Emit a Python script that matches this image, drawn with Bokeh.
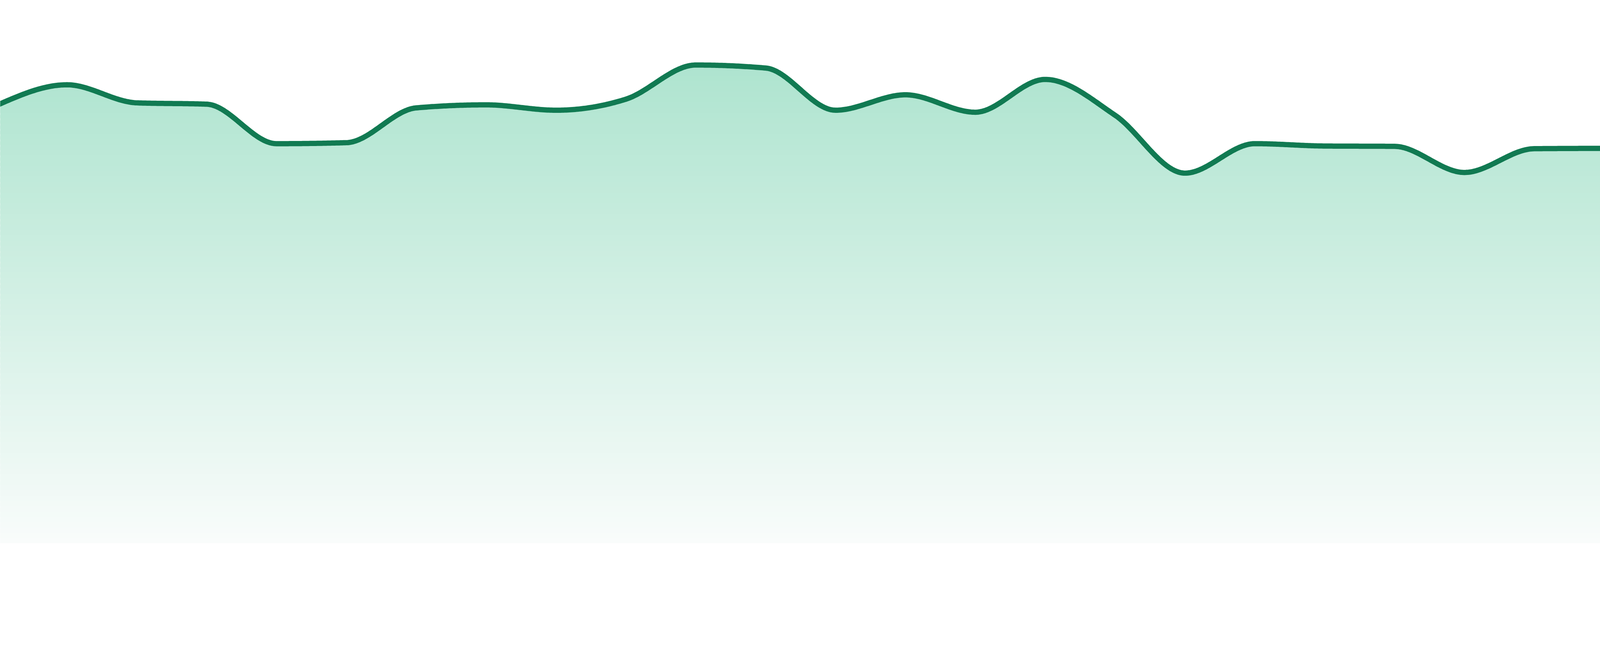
import numpy as np
from bokeh.plotting import figure
from bokeh.models import Range1d
from bokeh.embed import file_html
from bokeh.resources import INLINE

# ---- data ----
periods = list(range(24))
prices = [130.9, 137.0, 131.6, 131.2, 119.4, 119.7, 130.1, 131.0,
          129.4, 132.7, 142.9, 142.0, 129.4, 134.0, 128.8, 138.6,
          127.9, 110.6, 119.4, 118.7, 118.6, 110.8, 117.9, 118.0]

LINE_COLOR = "#117a52"
TOP_RGB = (174, 228, 207)
BOTTOM_RGB = (249, 252, 251)


def monotone_x(xs, ys, steps=48):
    """Monotone cubic (d3 curveMonotoneX style) evaluated densely for drawing."""
    x = np.asarray(xs, float)
    y = np.asarray(ys, float)
    n = len(x)
    h = np.diff(x)
    s = np.diff(y) / h
    t = np.zeros(n)
    for i in range(1, n - 1):
        h0, h1 = h[i - 1], h[i]
        s0, s1 = s[i - 1], s[i]
        p = (s0 * h1 + s1 * h0) / (h0 + h1)
        t[i] = (np.sign(s0) + np.sign(s1)) * min(abs(s0), abs(s1), 0.5 * abs(p))
    t[0] = (3 * s[0] - t[1]) / 2
    t[-1] = (3 * s[-1] - t[-2]) / 2
    X, Y = [], []
    for i in range(n - 1):
        u = np.linspace(0, 1, steps, endpoint=(i == n - 2))
        dx = h[i]
        h00 = 2 * u**3 - 3 * u**2 + 1
        h10 = u**3 - 2 * u**2 + u
        h01 = -2 * u**3 + 3 * u**2
        h11 = u**3 - u**2
        X.append(x[i] + u * dx)
        Y.append(h00 * y[i] + h10 * dx * t[i] + h01 * y[i + 1] + h11 * dx * t[i + 1])
    return np.concatenate(X), np.concatenate(Y)


cx, cy = monotone_x(periods, prices)

W, H = 4098, 1424
p = figure(width=W, height=H, output_backend="svg", toolbar_location=None,
           x_range=Range1d(0.0447, 22.954), y_range=Range1d(-3.867, 162.27),
           min_border=0, min_border_left=0, min_border_right=0,
           min_border_top=0, min_border_bottom=0)
p.axis.visible = False
p.grid.visible = False
p.outline_line_color = None
p.background_fill_color = "white"
p.border_fill_color = "white"

# vertical gradient fill under the curve, built from stacked bands
top_v = float(np.max(cy))
nb = 90
edges = np.linspace(0, top_v, nb + 1)
for k in range(nb):
    lo, hi = edges[k], edges[k + 1]
    f = 1 - (lo + hi) / 2 / top_v  # 0 at top, 1 at baseline
    r = int(round(TOP_RGB[0] + (BOTTOM_RGB[0] - TOP_RGB[0]) * f))
    g = int(round(TOP_RGB[1] + (BOTTOM_RGB[1] - TOP_RGB[1]) * f))
    b = int(round(TOP_RGB[2] + (BOTTOM_RGB[2] - TOP_RGB[2]) * f))
    hi2 = hi + (top_v / nb) * 0.6
    y2 = np.maximum(lo, np.minimum(cy, hi2))
    p.varea(x=cx, y1=np.full_like(cx, lo), y2=y2,
            fill_color=(r, g, b), fill_alpha=1.0)

p.line(cx, cy, line_color=LINE_COLOR, line_width=13.5,
       line_join="round", line_cap="round")

open("out.html", "w").write(file_html(p, INLINE))
